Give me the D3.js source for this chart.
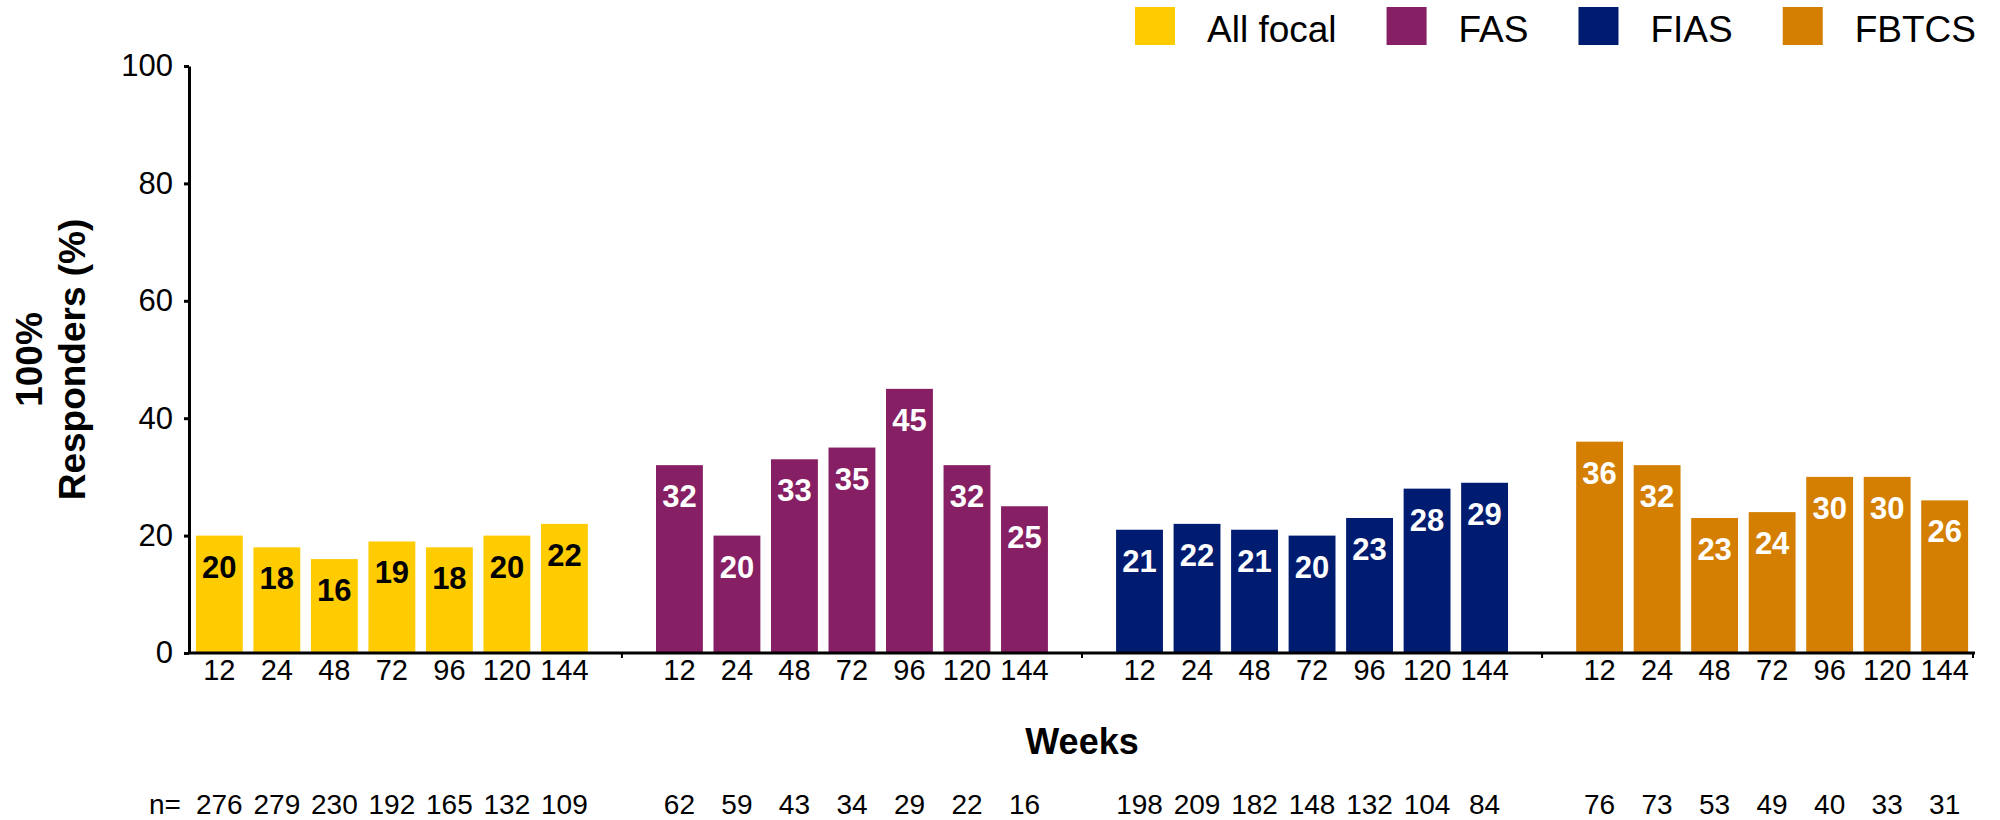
<!DOCTYPE html>
<html>
<head>
<meta charset="utf-8">
<script src="https://cdn.jsdelivr.net/npm/d3@7"></script>
<style>
  html, body { margin: 0; padding: 0; background: #fff; }
  svg { display: block; font-family: "Liberation Sans", Arial, Helvetica, sans-serif; }
</style>
</head>
<body>
<svg id="chart" width="2000" height="820"></svg>
<script>
// Seizure types and visit weeks
const categories = ["All focal", "FAS", "FIAS", "FBTCS"];
const weeks = ["12", "24", "48", "72", "96", "120", "144"];

// 100% responder rates (%) per seizure type, by week
const allFocal = [20, 18, 16, 19, 18, 20, 22];
const fas = [32, 20, 33, 35, 45, 32, 25];
const fias = [21, 22, 21, 20, 23, 28, 29];
const fbtcs = [36, 32, 23, 24, 30, 30, 26];

// Patients assessed at each week
const nAllFocal = [276, 279, 230, 192, 165, 132, 109];
const nFas = [62, 59, 43, 34, 29, 22, 16];
const nFias = [198, 209, 182, 148, 132, 104, 84];
const nFbtcs = [76, 73, 53, 49, 40, 33, 31];

const yTicks = [0, 20, 40, 60, 80, 100];

const seriesValues = [allFocal, fas, fias, fbtcs];
const seriesN = [nAllFocal, nFas, nFias, nFbtcs];
const colors = ["#FECC00", "#861F63", "#001C70", "#D47F02"];
const labelColors = ["#000000", "#ffffff", "#ffffff", "#ffffff"];

const svg = d3.select("#chart");

// One band per bar, with an empty spacer band between seizure types
const slots = [];
categories.forEach((c, gi) => {
  weeks.forEach(w => slots.push(gi + "|" + w));
  if (gi < categories.length - 1) slots.push(gi + "|gap");
});
const gapSlots = slots.filter(s => s.endsWith("|gap"));

const x = d3.scaleBand().domain(slots).range([189, 1975]).paddingInner(0.185).paddingOuter(0.12);
const y = d3.scaleLinear().domain([0, 100]).range([653, 66]);

const bars = [];
categories.forEach((c, gi) => {
  weeks.forEach((w, wi) => {
    bars.push({ key: gi + "|" + w, gi, week: w, value: seriesValues[gi][wi], n: seriesN[gi][wi] });
  });
});

// Bars
svg.append("g").selectAll("rect").data(bars).join("rect")
  .attr("x", d => x(d.key))
  .attr("y", d => y(d.value))
  .attr("width", x.bandwidth())
  .attr("height", d => y(0) - y(d.value))
  .attr("fill", d => colors[d.gi]);

// Value labels inside the bars
svg.append("g").selectAll("text").data(bars).join("text")
  .attr("x", d => x(d.key) + x.bandwidth() / 2)
  .attr("y", d => y(d.value) + 42)
  .attr("text-anchor", "middle")
  .attr("font-size", 31)
  .attr("font-weight", "bold")
  .attr("fill", d => labelColors[d.gi])
  .text(d => d.value);

// Y axis
const yAxis = svg.append("g")
  .attr("transform", `translate(${x.range()[0]},0)`)
  .call(d3.axisLeft(y).tickValues(yTicks).tickSize(5).tickSizeOuter(0).tickPadding(11));
yAxis.select(".domain").attr("stroke", "#000").attr("stroke-width", 3);
yAxis.selectAll(".tick line").attr("stroke", "#000").attr("stroke-width", 3);
yAxis.selectAll(".tick text").attr("font-size", 31).attr("fill", "#000")
  .attr("font-family", "'Liberation Sans', Arial, sans-serif");

// X axis with week labels
const xAxis = svg.append("g")
  .attr("transform", `translate(0,${y(0)})`)
  .call(d3.axisBottom(x)
    .tickValues(bars.map(d => d.key))
    .tickFormat(k => k.split("|")[1])
    .tickSize(0).tickSizeOuter(0).tickPadding(6));
xAxis.select(".domain").attr("stroke", "#000").attr("stroke-width", 3)
  .attr("d", `M${x.range()[0]},0H${x.range()[1]}`);
xAxis.selectAll(".tick text").attr("font-size", 29).attr("fill", "#000")
  .attr("font-family", "'Liberation Sans', Arial, sans-serif");

// Small separator ticks between seizure types and at the axis end
const sepTicks = gapSlots.map(s => x(s) + x.bandwidth() / 2).concat([x.range()[1] - 2]);
svg.append("g").selectAll("line").data(sepTicks).join("line")
  .attr("x1", d => d).attr("x2", d => d)
  .attr("y1", y(0)).attr("y2", y(0) + 5)
  .attr("stroke", "#000").attr("stroke-width", 2);

// Axis titles
svg.append("text")
  .attr("x", (x.range()[0] + x.range()[1]) / 2)
  .attr("y", 754)
  .attr("text-anchor", "middle")
  .attr("font-size", 36)
  .attr("font-weight", "bold")
  .text("Weeks");

const yMid = (y.range()[0] + y.range()[1]) / 2;
[["100%", 42], ["Responders (%)", 85]].forEach(([t, bx]) => {
  svg.append("text")
    .attr("transform", `translate(${bx},${yMid}) rotate(-90)`)
    .attr("text-anchor", "middle")
    .attr("font-size", 37)
    .attr("font-weight", "bold")
    .text(t);
});

// Sample sizes row
svg.append("text").attr("x", 149).attr("y", 814).attr("font-size", 28).text("n=");
svg.append("g").selectAll("text").data(bars).join("text")
  .attr("x", d => x(d.key) + x.bandwidth() / 2)
  .attr("y", 814)
  .attr("text-anchor", "middle")
  .attr("font-size", 28)
  .text(d => d.n);

// Legend
const legend = svg.append("g");
let lx = 1135;
categories.forEach((c, i) => {
  legend.append("rect").attr("x", lx).attr("y", 7).attr("width", 40).attr("height", 38).attr("fill", colors[i]);
  const t = legend.append("text").attr("x", lx + 72).attr("y", 42).attr("font-size", 37).text(c);
  lx += 72 + t.node().getComputedTextLength() + 50;
});
</script>
</body>
</html>
